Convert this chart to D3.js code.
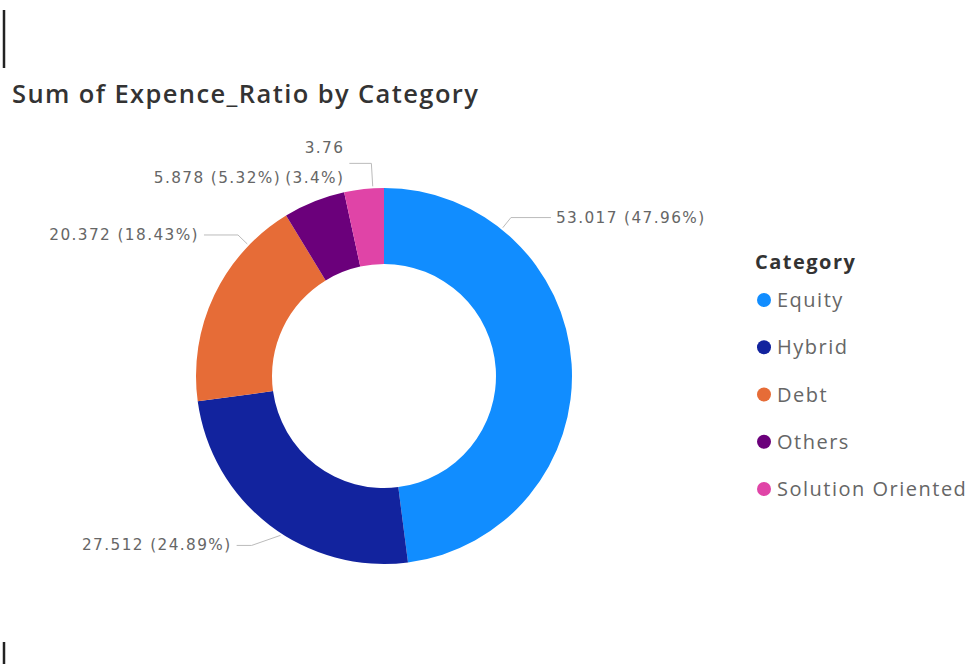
<!DOCTYPE html>
<html><head><meta charset="utf-8">
<script src="https://cdn.jsdelivr.net/npm/d3@7"></script>
<style>
html,body{margin:0;padding:0;background:#fff;}
svg{display:block;font-family:"Open Sans",sans-serif;}
</style></head>
<body>
<svg id="c" width="971" height="664"></svg>
<script>
const categories = ["Equity","Hybrid","Debt","Others","Solution Oriented"];
const values = [53.017, 27.512, 20.372, 5.878, 3.76];
const percentLabels = ["47.96%","24.89%","18.43%","5.32%","3.4%"];
const valueLabels = ["53.017","27.512","20.372","5.878","3.76"];
const colors = ["#118DFF","#12239E","#E66C37","#6B007B","#E044A7"];

const svg = d3.select("#c");
const cx = 384, cy = 376, R = 188, r0 = 112;

// frame marks at left edge
svg.append("line").attr("x1",4).attr("x2",4).attr("y1",10).attr("y2",68).attr("stroke","#222").attr("stroke-width",2.5);
svg.append("line").attr("x1",4).attr("x2",4).attr("y1",642).attr("y2",664).attr("stroke","#222").attr("stroke-width",2.5);

svg.append("text").attr("x",12).attr("y",103)
  .attr("font-size",25.5).attr("font-weight",600).attr("fill","#333").attr("letter-spacing",1.4)
  .text("Sum of Expence_Ratio by Category");

const pie = d3.pie().sort(null).value(d=>d.v);
const data = categories.map((c,i)=>({c, v:values[i], i}));
const arcs = pie(data);
const arc = d3.arc().innerRadius(r0).outerRadius(R);
const color = d3.scaleOrdinal().domain(categories).range(colors);

const g = svg.append("g").attr("transform",`translate(${cx},${cy})`);
g.selectAll("path").data(arcs).join("path")
  .attr("d",arc).attr("fill",d=>color(d.data.c));

// label layout (angle where leader meets ring, elbow angle/radius, horizontal run)
const layout = {
  "Equity":{ang:38.7, er:203, run:40, leader:true},
  "Hybrid":{ang:213, ea:218, er:215, run:15, leader:true},
  "Debt":{ang:314, er:203, run:34, leader:true},
  "Others":{ang:338, er:216, run:0, leader:false},
  "Solution Oriented":{ang:356.6, er:213, run:22, leader:true}
};
const lab = svg.append("g").attr("font-family","'DejaVu Sans',sans-serif");
let solPctLeft = null, solRowY = null;
// draw Solution first so Others can sit on the same row to its left
const order = [0,1,2,4,3];
order.forEach(k=>{
  const a = arcs[k];
  const L = layout[a.data.c];
  const t = L.ang*Math.PI/180;
  const te = (L.ea ?? L.ang)*Math.PI/180;
  const p1 = [cx+ (R+2)*Math.sin(t), cy-(R+2)*Math.cos(t)];
  const p2 = [cx+ L.er*Math.sin(te), cy-L.er*Math.cos(te)];
  const right = Math.sin(t) > 0;
  const p3 = [p2[0] + (right?L.run:-L.run), p2[1]];
  if (L.leader) lab.append("polyline").attr("points",[p1,p2,p3].map(p=>p.join(",")).join(" "))
    .attr("fill","none").attr("stroke","#bbb").attr("stroke-width",1);
  let tx = p3[0] + (right?5:-5);
  const txt = lab.append("text").attr("font-size",15.3).attr("fill","#666")
    .attr("letter-spacing",1.4)
    .attr("text-anchor", right?"start":"end");
  if (a.data.c === "Solution Oriented") {
    txt.append("tspan").attr("x",tx).attr("y",p3[1]-10).text(valueLabels[a.index]);
    const s2 = txt.append("tspan").attr("x",tx).attr("y",p3[1]+20).text(`(${percentLabels[a.index]})`);
    solPctLeft = tx - s2.node().getComputedTextLength();
    solRowY = p3[1]+20;
  } else if (a.data.c === "Others") {
    txt.attr("x",solPctLeft-4).attr("y",solRowY).text(`${valueLabels[a.index]} (${percentLabels[a.index]})`);
  } else {
    txt.attr("x",tx).attr("y",p3[1]+5).text(`${valueLabels[a.index]} (${percentLabels[a.index]})`);
  }
});

// legend
const lg = svg.append("g").attr("transform","translate(755,0)");
lg.append("text").attr("x",0).attr("y",269).attr("font-size",20).attr("font-weight",700)
  .attr("fill","#333").attr("letter-spacing",1.5).text("Category");
const ly = d3.scalePoint().domain(categories).range([300,489]);
categories.forEach(c=>{
  lg.append("circle").attr("cx",9).attr("cy",ly(c)).attr("r",7).attr("fill",color(c));
  lg.append("text").attr("x",22).attr("y",ly(c)+7).attr("font-size",20)
    .attr("fill","#666").attr("letter-spacing",1.5).text(c);
});
</script>
</body></html>
